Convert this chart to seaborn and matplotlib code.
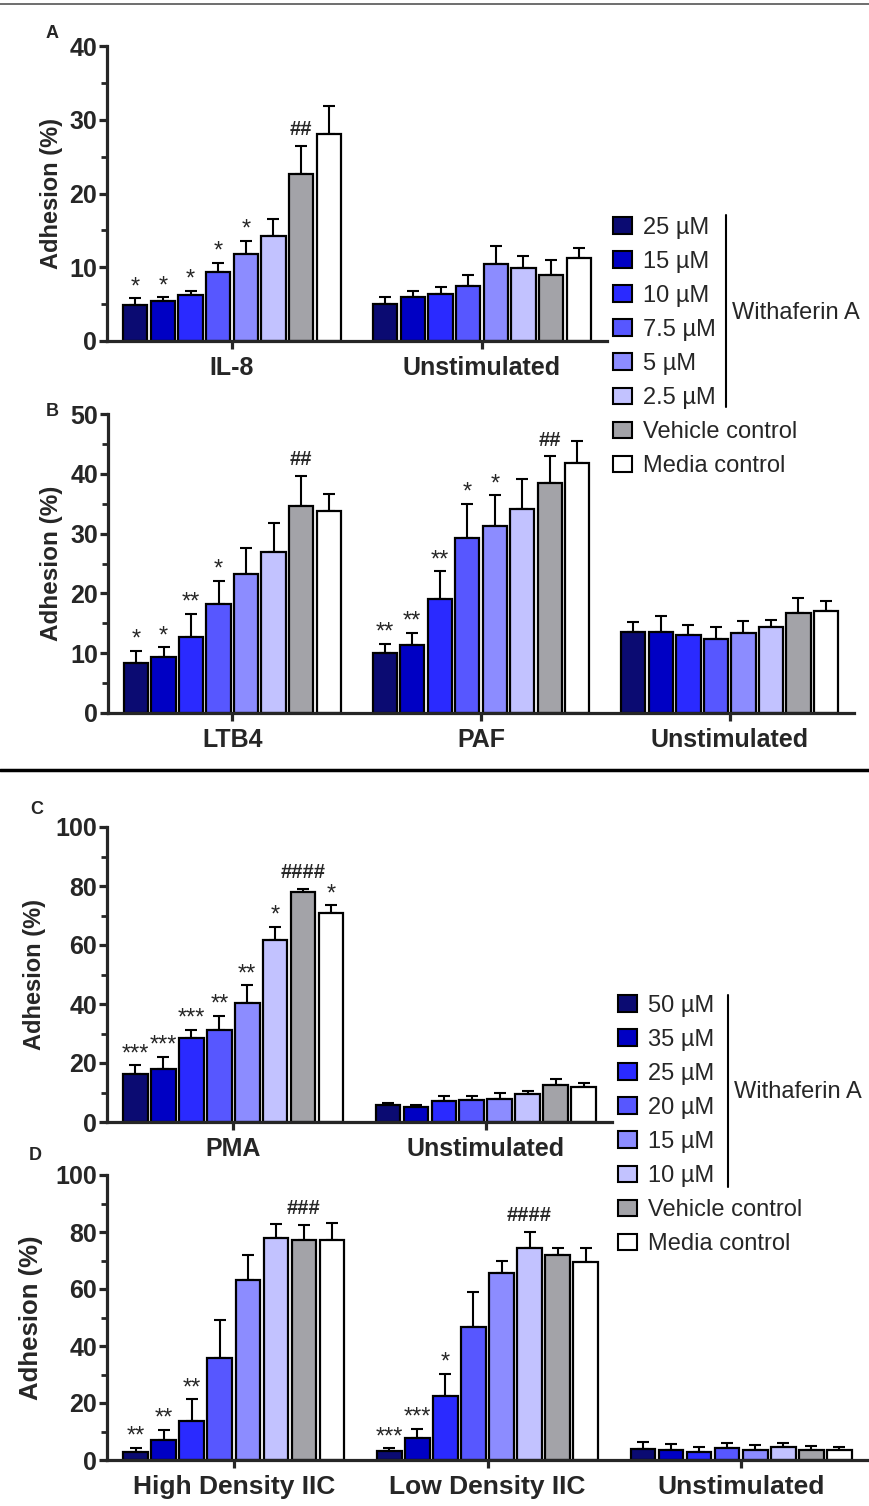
import numpy as np
import pandas as pd
import seaborn as sns
import matplotlib.pyplot as plt
from matplotlib.patches import Patch
from matplotlib.lines import Line2D

sns.set_style("ticks")
plt.rcParams['font.family'] = ['Liberation Sans', 'DejaVu Sans']

W, H = 870, 1506

# DATA
conds_ab = ['25 µM', '15 µM', '10 µM', '7.5 µM', '5 µM', '2.5 µM', 'Vehicle control', 'Media control']
conds_cd = ['50 µM', '35 µM', '25 µM', '20 µM', '15 µM', '10 µM', 'Vehicle control', 'Media control']
colors = ['#0b0b72', '#0000c4', '#2a2aff', '#5757ff', '#8c8cff', '#c2c2ff', '#a3a3a8', '#ffffff']

a_groups = ['IL-8', 'Unstimulated']
a_means = [[4.9, 5.4, 6.2, 9.3, 11.8, 14.3, 22.7, 28.1],
           [5.0, 6.0, 6.4, 7.4, 10.5, 9.9, 8.9, 11.3]]
a_tops = [[5.8, 5.9, 6.8, 10.6, 13.6, 16.6, 26.4, 31.9],
          [6.0, 6.8, 7.3, 9.0, 12.9, 11.5, 11.0, 12.6]]
a_marks = [['*', '*', '*', '*', '*', '', '##', ''],
           [''] * 8]

b_groups = ['LTB4', 'PAF', 'Unstimulated']
b_means = [[8.3, 9.3, 12.7, 18.2, 23.2, 27.0, 34.6, 33.8],
           [10.1, 11.3, 19.1, 29.3, 31.2, 34.1, 38.4, 41.8],
           [13.5, 13.6, 13.0, 12.3, 13.4, 14.4, 16.7, 17.0]]
b_tops = [[10.4, 11.0, 16.6, 22.1, 27.6, 31.8, 39.7, 36.6],
          [11.6, 13.4, 23.7, 35.0, 36.4, 39.2, 42.9, 45.5],
          [15.3, 16.2, 14.7, 14.4, 15.4, 15.6, 19.3, 18.8]]
b_marks = [['*', '*', '**', '*', '', '', '##', ''],
           ['**', '**', '**', '*', '*', '', '##', ''],
           [''] * 8]

c_groups = ['PMA', 'Unstimulated']
c_means = [[16.3, 18.1, 28.6, 31.1, 40.2, 61.7, 77.8, 70.9],
           [5.9, 5.1, 7.2, 7.5, 7.8, 9.6, 12.6, 12.0]]
c_tops = [[19.3, 22.1, 31.3, 36.0, 46.4, 66.1, 79.1, 73.5],
          [6.4, 5.8, 8.9, 8.7, 10.0, 10.6, 14.7, 13.3]]
c_marks = [['***', '***', '***', '**', '**', '*', '####', '*'],
           [''] * 8]

d_groups = ['High Density IIC', 'Low Density IIC', 'Unstimulated']
d_means = [[2.9, 7.0, 13.6, 35.9, 63.2, 77.8, 77.2, 77.2],
           [3.3, 7.7, 22.5, 46.8, 65.7, 74.3, 71.8, 69.6],
           [3.9, 3.4, 2.9, 4.2, 3.6, 4.4, 3.5, 3.4]]
d_tops = [[4.3, 10.6, 21.3, 49.1, 71.8, 82.8, 82.6, 83.3],
          [4.1, 10.9, 30.3, 58.8, 69.7, 79.9, 74.3, 74.3],
          [6.2, 5.5, 4.4, 6.1, 5.4, 6.1, 5.0, 4.4]]
d_marks = [['**', '**', '**', '', '', '', '###', ''],
           ['***', '***', '*', '', '', '####', '', ''],
           [''] * 8]


def rect(l, t, r, b):
    return [l / W, 1 - b / H, (r - l) / W, (b - t) / H]


def panel(ax, groups, conds, means, tops, marks, ymax, step, label_x, fs=18, xfs=18, lfs=17):
    rows = []
    for g, m_row, t_row, k_row in zip(groups, means, tops, marks):
        for c, m, t, k in zip(conds, m_row, t_row, k_row):
            rows.append({'group': g, 'cond': c, 'mean': m, 'top': t, 'mark': k})
    df = pd.DataFrame(rows)

    sns.barplot(data=df, x='group', y='mean', hue='cond', order=groups, hue_order=conds,
                palette=colors, saturation=1, edgecolor='black', linewidth=1.6,
                width=0.885, gap=0.12, errorbar=None, legend=False, ax=ax, zorder=2)

    bars = sorted([p for p in ax.patches if p.get_width() > 0], key=lambda p: p.get_x())
    xs = np.array([p.get_x() + p.get_width() / 2 for p in bars])
    ax.errorbar(xs, df['mean'], yerr=[np.zeros(len(df)), df['top'] - df['mean']],
                fmt='none', ecolor='black', elinewidth=1.5, capsize=4, capthick=1.5, zorder=1)
    for x, t, k in zip(xs, df['top'], df['mark']):
        if k.startswith('#'):
            ax.annotate(k, (x, t), xytext=(0, 5), textcoords='offset points',
                        ha='center', va='bottom', fontsize=14.5, fontweight='bold')
        elif k:
            ax.annotate(k, (x, t), xytext=(0, 0), textcoords='offset points',
                        ha='center', va='bottom', fontsize=17)

    ax.set_ylim(0, ymax)
    ax.set_xlim(-0.5, len(groups) - 0.5)
    ticks = list(range(0, ymax + 1, step))
    ax.set_yticks(ticks, labels=[str(t) for t in ticks], fontweight='bold', fontsize=fs)
    ax.set_yticks([t + step / 2 for t in ticks[:-1]], minor=True)
    ax.set_xticks(range(len(groups)), labels=groups, fontweight='bold', fontsize=xfs)
    ax.set_xlabel('')
    ax.set_ylabel('Adhesion (%)', fontweight='bold', fontsize=lfs)
    ax.yaxis.set_label_coords(label_x, 0.5)
    sns.despine(ax=ax)
    for s in ['left', 'bottom']:
        ax.spines[s].set_linewidth(2.3)
    ax.tick_params(axis='y', which='major', length=6, width=2.3, pad=1)
    ax.tick_params(axis='y', which='minor', length=4, width=2)
    ax.tick_params(axis='x', length=6, width=2.3, pad=5)


fig = plt.figure(figsize=(W / 100, H / 100), dpi=100)

ax_a = fig.add_axes(rect(107, 46, 607, 341))
panel(ax_a, a_groups, conds_ab, a_means, a_tops, a_marks, 40, 10, -0.088)

ax_b = fig.add_axes(rect(108, 414, 854, 713))
panel(ax_b, b_groups, conds_ab, b_means, b_tops, b_marks, 50, 10, -0.060, lfs=17.5)

ax_c = fig.add_axes(rect(107, 827, 612, 1122))
panel(ax_c, c_groups, conds_cd, c_means, c_tops, c_marks, 100, 20, -0.121)

ax_d = fig.add_axes(rect(107, 1175, 868, 1460))
panel(ax_d, d_groups, conds_cd, d_means, d_tops, d_marks, 100, 20, -0.084, xfs=19, lfs=18.5)

# legends
for conds, lx, ly, vx, vt, vb, ty in [(conds_ab, 613, 217, 726, 215, 407, 313),
                                      (conds_cd, 618, 995, 728, 995, 1187, 1092)]:
    handles = [Patch(facecolor=c, edgecolor='black', linewidth=1.5, label=l)
               for c, l in zip(colors, conds)]
    fig.legend(handles=handles, loc='upper left', bbox_to_anchor=(lx / W, 1 - ly / H),
               frameon=False, fontsize=17, handlelength=0.8, handleheight=0.72,
               handletextpad=0.45, labelspacing=0.51, borderpad=0, borderaxespad=0)
    fig.add_artist(Line2D([vx / W, vx / W], [1 - vt / H, 1 - vb / H], color='black', lw=1.5))
    fig.text((vx + 6) / W, 1 - ty / H, 'Withaferin A', fontsize=17, va='center', ha='left')

# panel letters and separators
for letter, x, y in [('A', 52, 33), ('B', 52, 412), ('C', 37, 810), ('D', 35, 1155)]:
    fig.text(x / W, 1 - y / H, letter, fontsize=13, fontweight='bold', ha='center', va='center')
fig.add_artist(Line2D([0, 1], [1 - 4 / H] * 2, color='#555555', lw=1.2))
fig.add_artist(Line2D([0, 1], [1 - 770 / H] * 2, color='black', lw=2.5))

fig.savefig('out.png', dpi=100)
